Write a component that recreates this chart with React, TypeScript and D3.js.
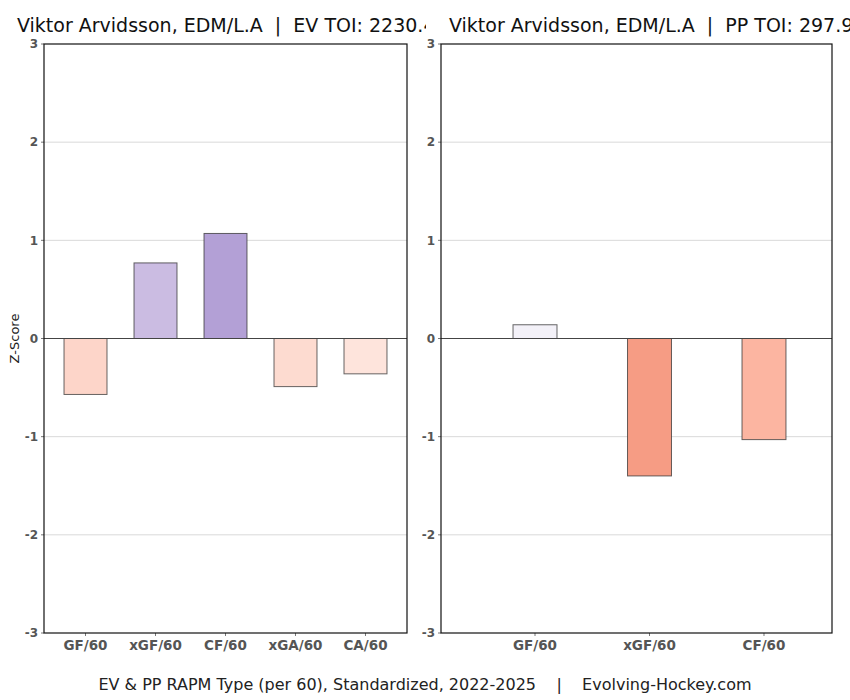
import React from "react";
import * as d3 from "d3";

const evMetrics = ["GF/60", "xGF/60", "CF/60", "xGA/60", "CA/60"];
const evValues = [-0.57, 0.77, 1.07, -0.49, -0.36];
const evColors = ["#fdd5c9", "#cbbce2", "#b3a0d6", "#fddbd0", "#fee4dc"];

const ppMetrics = ["GF/60", "xGF/60", "CF/60"];
const ppValues = [0.14, -1.4, -1.03];
const ppColors = ["#f3f1f8", "#f69c84", "#fcb5a1"];

const yTicks = [-3, -2, -1, 0, 1, 2, 3];

const evTitle = "Viktor Arvidsson, EDM/L.A  |  EV TOI: 2230.4";
const ppTitle = "Viktor Arvidsson, EDM/L.A  |  PP TOI: 297.9";
const footer =
  "EV & PP RAPM Type (per 60), Standardized, 2022-2025    |    Evolving-Hockey.com";

const width = 850;
const height = 700;
const top = 44;
const bottom = 633;
const font = "'DejaVu Sans', sans-serif";

function Panel({
  x0,
  x1,
  bandStart,
  bandEnd,
  metrics,
  values,
  colors,
  paddingInner,
  paddingOuter,
}: {
  x0: number;
  x1: number;
  bandStart: number;
  bandEnd: number;
  metrics: string[];
  values: number[];
  colors: string[];
  paddingInner: number;
  paddingOuter: number;
}) {
  const y = d3.scaleLinear().domain([-3, 3]).range([bottom, top]);
  const x = d3
    .scaleBand()
    .domain(metrics)
    .range([bandStart, bandEnd])
    .paddingInner(paddingInner)
    .paddingOuter(paddingOuter);

  return (
    <g>
      {yTicks.map((t) => (
        <g key={t}>
          {t !== 0 && Math.abs(t) !== 3 && (
            <line x1={x0} x2={x1} y1={y(t)} y2={y(t)} stroke="#d9d9d9" strokeWidth={1} />
          )}
          <line x1={x0 - 3} x2={x0} y1={y(t)} y2={y(t)} stroke="#777" />
          <text
            x={x0 - 6}
            y={y(t)}
            dy="0.35em"
            textAnchor="end"
            fontFamily={font}
            fontWeight="bold"
            fontSize={12}
            fill="#555"
          >
            {t}
          </text>
        </g>
      ))}
      {metrics.map((m, i) => {
        const v = values[i];
        const bx = x(m)!;
        return (
          <rect
            key={m}
            x={bx}
            y={y(Math.max(v, 0))}
            width={x.bandwidth()}
            height={Math.abs(y(v) - y(0))}
            fill={colors[i]}
            stroke="#333"
            strokeOpacity={0.75}
            strokeWidth={1}
          />
        );
      })}
      <line x1={x0} x2={x1} y1={y(0)} y2={y(0)} stroke="#444" strokeWidth={1.2} />
      {metrics.map((m) => {
        const cx = x(m)! + x.bandwidth() / 2;
        return (
          <g key={m}>
            <line x1={cx} x2={cx} y1={bottom} y2={bottom + 3} stroke="#777" />
            <text
              x={cx}
              y={bottom + 17}
              textAnchor="middle"
              fontFamily={font}
              fontWeight="bold"
              fontSize={13.5}
              fill="#555"
            >
              {m}
            </text>
          </g>
        );
      })}
      <rect
        x={x0}
        y={top}
        width={x1 - x0}
        height={bottom - top}
        fill="none"
        stroke="#111"
        strokeWidth={1.2}
      />
    </g>
  );
}

export default function App() {
  return (
    <svg width={width} height={height} style={{ position: "absolute", left: 0, top: 0 }}>
      <rect width={width} height={height} fill="#fff" />
      <defs>
        <clipPath id="leftTitleClip">
          <rect x={0} y={0} width={426} height={40} />
        </clipPath>
      </defs>
      <text
        x={17}
        y={32}
        fontFamily={font}
        fontSize={19}
        fill="#111"
        clipPath="url(#leftTitleClip)"
        style={{ whiteSpace: "pre" }}
      >
        {evTitle}
      </text>
      <text x={449} y={32} fontFamily={font} fontSize={19} fill="#111" style={{ whiteSpace: "pre" }}>
        {ppTitle}
      </text>
      <text
        transform={`translate(19,${(top + bottom) / 2}) rotate(-90)`}
        textAnchor="middle"
        fontFamily={font}
        fontSize={13}
        fill="#222"
      >
        Z-Score
      </text>
      <Panel
        x0={44}
        x1={407}
        bandStart={44}
        bandEnd={407}
        metrics={evMetrics}
        values={evValues}
        colors={evColors}
        paddingInner={0.386}
        paddingOuter={0.286}
      />
      <Panel
        x0={441}
        x1={832}
        bandStart={467}
        bandEnd={832}
        metrics={ppMetrics}
        values={ppValues}
        colors={ppColors}
        paddingInner={0.616}
        paddingOuter={0.402}
      />
      <text
        x={425}
        y={690}
        textAnchor="middle"
        fontFamily={font}
        fontSize={16}
        fill="#222"
        style={{ whiteSpace: "pre" }}
      >
        {footer}
      </text>
    </svg>
  );
}
